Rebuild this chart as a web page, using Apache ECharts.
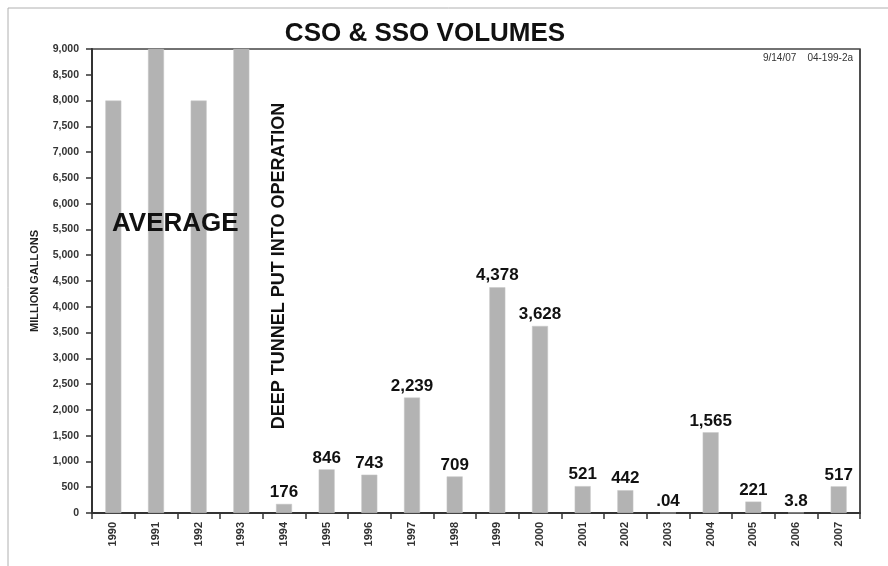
<!DOCTYPE html>
<html>
<head>
<meta charset="utf-8">
<script src="https://cdn.jsdelivr.net/npm/echarts@6/dist/echarts.min.js"></script>
<style>
  html, body { margin: 0; padding: 0; background: #fff; }
  #main { width: 888px; height: 566px; }
</style>
</head>
<body>
<div id="main"></div>
<script>
// data
var years = ['1990', '1991', '1992', '1993', '1994', '1995', '1996', '1997', '1998',
  '1999', '2000', '2001', '2002', '2003', '2004', '2005', '2006', '2007'];
// 1990-1993 are the pre-tunnel averages (1991 and 1993 run off the top)
var volumes = [8000, 9000, 8000, 9000, 176, 846, 743, 2239, 709,
  4378, 3628, 521, 442, 0.04, 1565, 221, 3.8, 517];
var valueLabels = ['', '', '', '', '176', '846', '743', '2,239', '709',
  '4,378', '3,628', '521', '442', '.04', '1,565', '221', '3.8', '517'];

var FONT = '"Liberation Sans", Arial, sans-serif';

var chart = echarts.init(document.getElementById('main'));

var option = {
  backgroundColor: '#ffffff',
  animation: false,
  title: {
    text: 'CSO & SSO VOLUMES',
    left: 420,
    textAlign: 'center',
    top: 16,
    textStyle: { fontFamily: FONT, fontSize: 26, fontWeight: 900, color: '#111' }
  },
  grid: {
    left: 92, right: 28, top: 49, bottom: 53,
    show: true, borderColor: '#444', borderWidth: 1.5
  },
  xAxis: {
    type: 'category',
    data: years,
    axisLine: { lineStyle: { color: '#333', width: 2 } },
    axisTick: { show: true, length: 6, lineStyle: { color: '#333', width: 1.5 } },
    axisLabel: {
      rotate: 90, fontFamily: FONT, fontSize: 11, fontWeight: 'bold', color: '#333', margin: 9
    },
    splitLine: {
      show: true,
      interval: function (i) { return i === 4; },
      lineStyle: { color: '#444', width: 1.5 }
    }
  },
  yAxis: {
    type: 'value',
    min: 0, max: 9000, interval: 500,
    name: 'MILLION GALLONS',
    nameLocation: 'middle',
    nameGap: 52,
    nameRotate: 90,
    nameTextStyle: { fontFamily: FONT, fontSize: 11, fontWeight: 'bold', color: '#222' },
    axisLine: { show: true, lineStyle: { color: '#333', width: 2 } },
    axisTick: { show: true, length: 6, lineStyle: { color: '#333', width: 1.5 } },
    axisLabel: {
      fontFamily: FONT, fontSize: 10.5, fontWeight: 'bold', color: '#333', margin: 13,
      formatter: function (v) { return v.toLocaleString('en-US'); }
    },
    splitLine: { show: false }
  },
  series: [{
    type: 'bar',
    data: volumes,
    barWidth: 16,
    z: 2,
    itemStyle: { color: '#b3b3b3', borderColor: '#c8c8c8', borderWidth: 0.5 },
    label: {
      show: true,
      position: 'top',
      distance: 3,
      fontFamily: FONT, fontSize: 17, fontWeight: 'bold', color: '#111',
      formatter: function (p) { return valueLabels[p.dataIndex]; }
    }
  }],
  graphic: [
    {
      type: 'rect', silent: true, z: -1,
      shape: { x: 8, y: 8, width: 900, height: 600 },
      style: { fill: 'none', stroke: '#b0b0b0', lineWidth: 1 }
    },
    {
      type: 'text', left: 112, top: 211, z: 100,
      style: { text: 'AVERAGE', font: '900 26px ' + FONT, fill: '#111' }
    },
    {
      type: 'text', x: 279, y: 266, rotation: Math.PI / 2, z: 100,
      style: {
        text: 'DEEP TUNNEL PUT INTO OPERATION', font: '900 18px ' + FONT, fill: '#111',
        align: 'center', verticalAlign: 'middle'
      }
    },
    {
      type: 'text', right: 35, top: 53,
      style: { text: '9/14/07    04-199-2a', font: '10px ' + FONT, fill: '#333' }
    }
  ]
};

chart.setOption(option);
</script>
</body>
</html>
